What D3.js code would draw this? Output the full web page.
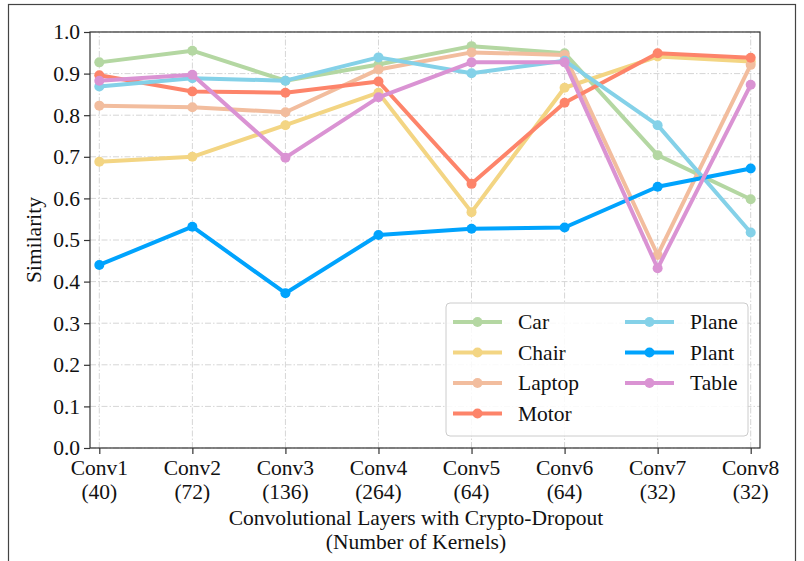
<!DOCTYPE html>
<html lang="en">
<head>
	<meta charset="utf-8">
	<title>Similarity per layer</title>
	<script type="text/javascript" src="https://cdn.jsdelivr.net/npm/d3@7"></script>
	<style>
		body { margin: 0; background: white; }
	</style>
</head>
<body>
	<script type="text/javascript">
		var w = 804;
		var h = 561;
		var serif = "Liberation Serif";
		var fs = 21.5;

		// chart data
		var layers = ["Conv1", "Conv2", "Conv3", "Conv4", "Conv5", "Conv6", "Conv7", "Conv8"];
		var kernels = ["(40)", "(72)", "(136)", "(264)", "(64)", "(64)", "(32)", "(32)"];
		var yTicks = [0.0, 0.1, 0.2, 0.3, 0.4, 0.5, 0.6, 0.7, 0.8, 0.9, 1.0];

		var car    = [0.927, 0.955, 0.883, 0.922, 0.966, 0.949, 0.704, 0.598];
		var chair  = [0.688, 0.700, 0.776, 0.854, 0.567, 0.866, 0.941, 0.929];
		var laptop = [0.823, 0.819, 0.807, 0.910, 0.951, 0.945, 0.464, 0.921];
		var motor  = [0.896, 0.857, 0.854, 0.881, 0.635, 0.830, 0.949, 0.938];
		var plane  = [0.869, 0.889, 0.883, 0.939, 0.901, 0.931, 0.776, 0.518];
		var plant  = [0.440, 0.532, 0.372, 0.512, 0.527, 0.530, 0.628, 0.672];
		var table  = [0.883, 0.897, 0.698, 0.843, 0.927, 0.927, 0.432, 0.873];

		var seriesNames = ["Car", "Chair", "Laptop", "Motor", "Plane", "Plant", "Table"];
		var seriesValues = [car, chair, laptop, motor, plane, plant, table];
		var seriesColors = ["#b4d7a2", "#f3d583", "#f2bd9e", "#fd846a", "#84d1e8", "#00a3fd", "#da93d3"];

		var margin = { left: 90, right: 44, top: 32, bottom: 113 };

		var svg = d3.select("body")
					.append("svg")
					.attr("width", w)
					.attr("height", h)
					.attr("font-family", serif)
					.attr("font-size", fs);

		// outer figure frame
		svg.append("rect")
		   .attr("x", 8.5).attr("y", 4.5)
		   .attr("width", 787).attr("height", h + 10)
		   .attr("fill", "none")
		   .attr("stroke", "#444")
		   .attr("stroke-width", 1.2);

		var x = d3.scaleLinear()
				  .domain([-0.1, layers.length - 1 + 0.1])
				  .range([margin.left, w - margin.right]);
		var y = d3.scaleLinear()
				  .domain([0, 1])
				  .range([h - margin.bottom, margin.top]);

		// grid
		var grid = svg.append("g").attr("class", "grid");
		grid.selectAll(".gy")
			.data(yTicks)
			.enter().append("line")
			.attr("x1", x.range()[0]).attr("x2", x.range()[1])
			.attr("y1", function(d) { return y(d); })
			.attr("y2", function(d) { return y(d); });
		grid.selectAll(".gx")
			.data(layers)
			.enter().append("line")
			.attr("x1", function(d, i) { return x(i); })
			.attr("x2", function(d, i) { return x(i); })
			.attr("y1", y.range()[0]).attr("y2", y.range()[1]);
		grid.selectAll("line")
			.attr("stroke", "#d6d6d6")
			.attr("stroke-width", 1)
			.attr("stroke-dasharray", "6,2,1.5,2");

		// axes
		var yAxis = d3.axisLeft(y).tickValues(yTicks).tickFormat(d3.format(".1f")).tickSize(6).tickPadding(4);
		var xAxis = d3.axisBottom(x).tickValues(d3.range(layers.length)).tickFormat("").tickSize(6);

		var gy = svg.append("g")
					.attr("transform", "translate(" + margin.left + ",0)")
					.call(yAxis);
		var gx = svg.append("g")
					.attr("transform", "translate(0," + (h - margin.bottom) + ")")
					.call(xAxis);
		gy.select(".domain").remove();
		gx.select(".domain").remove();
		gy.attr("font-family", serif).attr("font-size", fs);
		gx.attr("font-family", serif).attr("font-size", fs);
		svg.selectAll(".tick line").attr("stroke", "#333").attr("stroke-width", 1.2);

		// two line tick labels
		var xl = svg.append("g");
		xl.selectAll(".l1")
		  .data(layers)
		  .enter().append("text")
		  .attr("x", function(d, i) { return x(i); })
		  .attr("y", 475)
		  .attr("text-anchor", "middle")
		  .text(function(d) { return d; });
		xl.selectAll(".l2")
		  .data(kernels)
		  .enter().append("text")
		  .attr("x", function(d, i) { return x(i); })
		  .attr("y", 499)
		  .attr("text-anchor", "middle")
		  .text(function(d) { return d; });

		// axis titles (centred a bit left of the plot centre, as in the figure)
		var cx = 416;
		svg.append("text")
		   .attr("x", cx).attr("y", 525)
		   .attr("text-anchor", "middle")
		   .text("Convolutional Layers with Crypto-Dropout");
		svg.append("text")
		   .attr("x", cx).attr("y", 549)
		   .attr("text-anchor", "middle")
		   .text("(Number of Kernels)");
		svg.append("text")
		   .attr("transform", "translate(41," + ((y.range()[0] + y.range()[1]) / 2) + ") rotate(-90)")
		   .attr("text-anchor", "middle")
		   .text("Similarity");

		// series lines
		var line = d3.line()
					 .x(function(d, i) { return x(i); })
					 .y(function(d) { return y(d); });

		var series = svg.append("g")
						.selectAll("g")
						.data(seriesValues)
						.enter().append("g");
		series.append("path")
			  .attr("d", function(d) { return line(d); })
			  .attr("fill", "none")
			  .attr("stroke", function(d, i) { return seriesColors[i]; })
			  .attr("stroke-width", 4)
			  .attr("stroke-linejoin", "round");
		series.each(function(vals, si) {
			d3.select(this).selectAll("circle")
			  .data(vals)
			  .enter().append("circle")
			  .attr("cx", function(d, i) { return x(i); })
			  .attr("cy", function(d) { return y(d); })
			  .attr("r", 5)
			  .attr("fill", seriesColors[si]);
		});

		// plot frame
		svg.append("rect")
		   .attr("x", x.range()[0]).attr("y", y.range()[1])
		   .attr("width", x.range()[1] - x.range()[0])
		   .attr("height", y.range()[0] - y.range()[1])
		   .attr("fill", "none")
		   .attr("stroke", "#333")
		   .attr("stroke-width", 1.2);

		// legend
		var legend = svg.append("g").attr("transform", "translate(446,303)");
		legend.append("rect")
			  .attr("width", 302).attr("height", 133)
			  .attr("rx", 4)
			  .attr("fill", "white").attr("fill-opacity", 0.85)
			  .attr("stroke", "#cccccc");
		var items = legend.selectAll(".item")
						  .data(seriesNames)
						  .enter().append("g")
						  .attr("transform", function(d, i) {
							  var col = i < 4 ? 0 : 1;
							  var row = i < 4 ? i : i - 4;
							  return "translate(" + (7 + col * 172) + "," + (19 + row * 30.5) + ")";
						  });
		items.append("line")
			 .attr("x1", 0).attr("x2", 49)
			 .attr("stroke", function(d, i) { return seriesColors[i]; })
			 .attr("stroke-width", 4);
		items.append("circle")
			 .attr("cx", 24.5).attr("r", 5)
			 .attr("fill", function(d, i) { return seriesColors[i]; });
		items.append("text")
			 .attr("x", 65).attr("y", 7)
			 .text(function(d) { return d; });

		// shared text style
		svg.selectAll("text")
		   .attr("font-family", serif)
		   .attr("font-size", fs)
		   .attr("fill", "#111");
	</script>
</body>
</html>
